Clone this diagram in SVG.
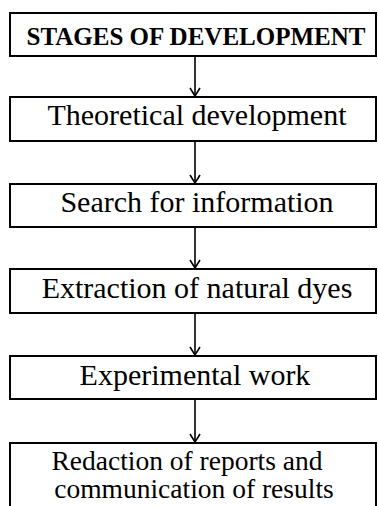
<svg xmlns="http://www.w3.org/2000/svg" width="378" height="506" viewBox="0 0 378 506">
<style>
.box{fill:#fff;stroke:#000;stroke-width:2}
.t{font-family:"Liberation Serif","Times New Roman",serif;font-size:30px;fill:#000;text-anchor:middle}
.s{font-size:27.5px}
.h{font-family:"Liberation Serif","Times New Roman",serif;font-size:25px;font-weight:bold;fill:#000;text-anchor:middle}
.c{fill:none;stroke:#000;stroke-width:1.6}
</style>
<defs>
<marker id="ah" markerWidth="10" markerHeight="12" refX="9" refY="6" orient="auto" markerUnits="userSpaceOnUse" viewBox="0 0 10 12">
<path d="M1,1 L9,6 L1,11" fill="none" stroke="#000" stroke-width="1.6"/>
</marker>
</defs>
<g id="connectors">
<line class="c" x1="195" y1="56" x2="195" y2="96" marker-end="url(#ah)"/>
<line class="c" x1="195" y1="141" x2="195" y2="183" marker-end="url(#ah)"/>
<line class="c" x1="195" y1="227" x2="195" y2="268" marker-end="url(#ah)"/>
<line class="c" x1="195" y1="313" x2="195" y2="355" marker-end="url(#ah)"/>
<line class="c" x1="195" y1="399" x2="195" y2="442" marker-end="url(#ah)"/>
</g>
<g id="n0">
<rect class="box" x="10" y="13" width="366" height="43"/>
<text class="h" x="196" y="45">STAGES OF DEVELOPMENT</text>
</g>
<g id="n1">
<rect class="box" x="10" y="97" width="366" height="44"/>
<text class="t" x="197" y="125">Theoretical development</text>
</g>
<g id="n2">
<rect class="box" x="10" y="184" width="366" height="43"/>
<text class="t" x="197" y="212">Search for information</text>
</g>
<g id="n3">
<rect class="box" x="10" y="269" width="366" height="44"/>
<text class="t" x="197" y="298">Extraction of natural dyes</text>
</g>
<g id="n4">
<rect class="box" x="10" y="356" width="366" height="43"/>
<text class="t" x="195" y="385">Experimental work</text>
</g>
<g id="n5">
<rect class="box" x="10" y="443" width="366" height="80"/>
<text class="t s" x="187" y="470">Redaction of reports and</text>
<text class="t s" x="194" y="498">communication of results</text>
</g>
</svg>
